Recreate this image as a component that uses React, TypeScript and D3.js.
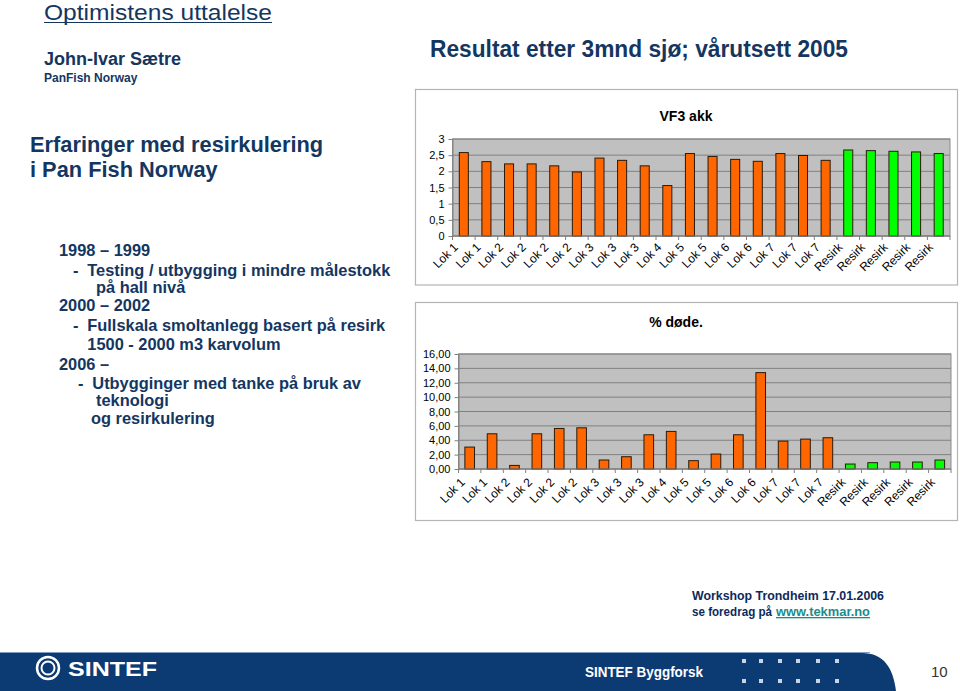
import * as d3 from 'd3';
import React, { useEffect, useRef } from 'react';

const categories = [
  'Lok 1', 'Lok 1', 'Lok 2', 'Lok 2', 'Lok 2', 'Lok 2', 'Lok 3', 'Lok 3', 'Lok 3', 'Lok 4', 'Lok 5',
  'Lok 5', 'Lok 6', 'Lok 6', 'Lok 7', 'Lok 7', 'Lok 7', 'Resirk', 'Resirk', 'Resirk', 'Resirk', 'Resirk',
];
const vf3Values = [
  2.58, 2.3, 2.23, 2.23, 2.17, 1.98, 2.41, 2.34, 2.17, 1.56, 2.55,
  2.46, 2.37, 2.31, 2.55, 2.49, 2.34, 2.66, 2.64, 2.62, 2.6, 2.55,
];
const dodeValues = [
  3.05, 4.9, 0.5, 4.9, 5.64, 5.73, 1.25, 1.71, 4.76, 5.23, 1.16,
  2.08, 4.76, 13.41, 3.88, 4.16, 4.35, 0.69, 0.88, 0.97, 0.97, 1.25,
];
const vf3Ticks = [0, 0.5, 1, 1.5, 2, 2.5, 3];
const dodeTicks = [0, 2, 4, 6, 8, 10, 12, 14, 16];

const NAVY = '#14365f';
const FONT = '"Liberation Sans", Arial, Helvetica, sans-serif';

interface ChartOpts {
  frame: [number, number, number, number];
  plot: { x0: number; x1: number; y0: number; y1: number };
  title: string;
  titleX: number;
  titleY: number;
  values: number[];
  ticks: number[];
  fmt: (d: number) => string;
  barRatio: number;
  labelDx: number;
  labelDy: number;
}

function drawChart(svg: d3.Selection<SVGSVGElement, unknown, null, undefined>, o: ChartOpts) {
  const g = svg.append('g').attr('class', 'chart').style('font-family', FONT);
  const [fx, fy, fw, fh] = o.frame;

  g.append('rect')
    .attr('x', fx).attr('y', fy).attr('width', fw).attr('height', fh)
    .attr('fill', '#fff').attr('stroke', '#b4b4b4').attr('stroke-width', 1.2);

  g.append('text')
    .attr('x', o.titleX).attr('y', o.titleY)
    .attr('text-anchor', 'middle')
    .attr('font-size', 14).attr('font-weight', 'bold')
    .text(o.title);

  const x = d3.scaleBand<number>()
    .domain(d3.range(categories.length))
    .range([o.plot.x0, o.plot.x1]);
  const y = d3.scaleLinear()
    .domain([0, d3.max(o.ticks)!])
    .range([o.plot.y1, o.plot.y0]);

  g.append('rect')
    .attr('x', o.plot.x0).attr('y', o.plot.y0)
    .attr('width', o.plot.x1 - o.plot.x0).attr('height', o.plot.y1 - o.plot.y0)
    .attr('fill', '#c0c0c0').attr('stroke', '#8c8c8c');

  // gridlines
  g.append('g').selectAll('line')
    .data(o.ticks)
    .join('line')
    .attr('x1', o.plot.x0).attr('x2', o.plot.x1)
    .attr('y1', (d) => y(d)).attr('y2', (d) => y(d))
    .attr('stroke', '#808080');

  const bw = x.bandwidth() * o.barRatio;
  g.append('g').selectAll('rect')
    .data(o.values)
    .join('rect')
    .attr('x', (_, i) => x(i)! + x.bandwidth() / 2 - bw / 2)
    .attr('y', (d) => y(d))
    .attr('width', bw)
    .attr('height', (d) => y(0) - y(d))
    .attr('fill', (_, i) => (categories[i].startsWith('Resirk') ? '#00ff00' : '#ff6600'))
    .attr('stroke', '#2a1a0a')
    .attr('stroke-width', 1);

  // y axis
  const yAxis = g.append('g')
    .attr('transform', `translate(${o.plot.x0},0)`)
    .call(d3.axisLeft(y).tickValues(o.ticks).tickFormat((d) => o.fmt(d as number)).tickSize(4).tickPadding(4).tickSizeOuter(0));
  yAxis.select('.domain').attr('stroke', '#808080');
  yAxis.selectAll('.tick line').attr('stroke', '#808080');
  yAxis.selectAll('text').attr('font-size', 11).attr('font-family', FONT).attr('fill', '#000');

  // x axis, ticks sit on the band boundaries
  const xg = g.append('g');
  xg.append('line')
    .attr('x1', o.plot.x0).attr('x2', o.plot.x1)
    .attr('y1', o.plot.y1).attr('y2', o.plot.y1)
    .attr('stroke', '#808080');
  xg.selectAll('line.tk')
    .data(d3.range(categories.length + 1))
    .join('line')
    .attr('class', 'tk')
    .attr('x1', (i) => o.plot.x0 + i * x.step()).attr('x2', (i) => o.plot.x0 + i * x.step())
    .attr('y1', o.plot.y1).attr('y2', o.plot.y1 + 4)
    .attr('stroke', '#808080');
  xg.selectAll('text')
    .data(categories)
    .join('text')
    .attr('transform', (_, i) => {
      const cx = x(i)! + x.bandwidth() / 2 + o.labelDx;
      return `translate(${cx},${o.plot.y1 + o.labelDy}) rotate(-45)`;
    })
    .attr('text-anchor', 'end')
    .attr('font-size', 12)
    .text((d) => d);
}

const commaFmt = (d: number) => String(d).replace('.', ',');
const comma2Fmt = (d: number) => d3.format('.2f')(d).replace('.', ',');

const leftLines: { x: number; y: number; t: string }[] = [
  { x: 59, y: 256, t: '1998 – 1999' },
  { x: 73, y: 276, t: '-' },
  { x: 87.3, y: 276, t: 'Testing / utbygging i mindre målestokk' },
  { x: 96, y: 293, t: 'på hall nivå' },
  { x: 59, y: 311, t: '2000 – 2002' },
  { x: 73, y: 331, t: '-' },
  { x: 87.3, y: 331, t: 'Fullskala smoltanlegg basert på resirk' },
  { x: 87.3, y: 350, t: '1500 - 2000 m3 karvolum' },
  { x: 59, y: 370, t: '2006 –' },
  { x: 78, y: 389, t: '-' },
  { x: 92.3, y: 389, t: 'Utbygginger med tanke på bruk av' },
  { x: 96, y: 406, t: 'teknologi' },
  { x: 91, y: 424, t: 'og resirkulering' },
];

const dotCols = [744, 761, 780, 798, 818, 837];
const dotRows = [661, 681];

const App: React.FC = () => {
  const svgRef = useRef<SVGSVGElement | null>(null);

  useEffect(() => {
    const svg = d3.select(svgRef.current!);
    svg.selectAll('g.chart').remove();
    drawChart(svg, {
      frame: [415.5, 89.5, 542, 195.5],
      plot: { x0: 452.5, x1: 950, y0: 139, y1: 236 },
      title: 'VF3 akk',
      titleX: 686,
      titleY: 121,
      values: vf3Values,
      ticks: vf3Ticks,
      fmt: commaFmt,
      barRatio: 0.4,
      labelDx: -5,
      labelDy: 12,
    });
    drawChart(svg, {
      frame: [415.5, 302.5, 542, 218],
      plot: { x0: 458.5, x1: 951, y0: 354, y1: 469 },
      title: '% døde.',
      titleX: 676,
      titleY: 327,
      values: dodeValues,
      ticks: dodeTicks,
      fmt: comma2Fmt,
      barRatio: 0.43,
      labelDx: -4,
      labelDy: 14,
    });
    return () => {
      svg.selectAll('g.chart').remove();
    };
  }, []);

  return (
    <div style={{ position: 'absolute', left: 0, top: 0 }}>
      <svg ref={svgRef} width={960} height={691} style={{ display: 'block', background: '#fff' }}>
        <g fontFamily={FONT} fill={NAVY}>
          <text x={44} y={19.5} fontSize={22} textLength={228} lengthAdjust="spacingAndGlyphs">Optimistens uttalelse</text>
          <line x1={44} x2={272} y1={22.5} y2={22.5} stroke={NAVY} strokeWidth={1.2} />
          <text x={44} y={65} fontSize={18} fontWeight="bold">John-Ivar Sætre</text>
          <text x={44} y={81.5} fontSize={12} fontWeight="bold">PanFish Norway</text>
          <text x={30} y={151.5} fontSize={21.8} fontWeight="bold">Erfaringer med resirkulering</text>
          <text x={30} y={176.5} fontSize={21.8} fontWeight="bold">i Pan Fish Norway</text>
          {leftLines.map((l, i) => (
            <text key={i} x={l.x} y={l.y} fontSize={16.4} fontWeight="bold">{l.t}</text>
          ))}
          <text x={430} y={57} fontSize={23} fontWeight="bold" textLength={418} lengthAdjust="spacingAndGlyphs">
            Resultat etter 3mnd sjø; vårutsett 2005
          </text>
          <text x={692} y={600} fontSize={13} fontWeight="bold" fill="#0d2a5c" textLength={192} lengthAdjust="spacingAndGlyphs">
            Workshop Trondheim 17.01.2006
          </text>
          <text x={692} y={616} fontSize={13} fontWeight="bold" fill="#0d2a5c" textLength={80} lengthAdjust="spacingAndGlyphs">
            se foredrag på
          </text>
          <text x={776} y={616} fontSize={13} fontWeight="bold" fill="#1a8c8c" textLength={94} lengthAdjust="spacingAndGlyphs" textDecoration="underline">
            www.tekmar.no
          </text>
        </g>
        <g>
          <line x1={0} x2={870} y1={652.5} y2={652.5} stroke="#7f9cc4" strokeWidth={1} />
          <path d="M0,653 H862 C884,653 893,668 896,691 H0 Z" fill="#0c3a73" />
          <circle cx={48} cy={668} r={11} fill="none" stroke="#fff" strokeWidth={2.5} />
          <circle cx={48} cy={668} r={6.5} fill="none" stroke="#fff" strokeWidth={2} />
          <text x={68} y={676} fontSize={20} fontWeight="bold" fill="#fff" fontFamily={FONT} textLength={89} lengthAdjust="spacingAndGlyphs">
            SINTEF
          </text>
          <text x={585} y={677} fontSize={15} fontWeight="bold" fill="#fff" fontFamily={FONT} textLength={118} lengthAdjust="spacingAndGlyphs">
            SINTEF Byggforsk
          </text>
          {dotRows.map((ry) =>
            dotCols.map((cx) => (
              <rect key={`${ry}-${cx}`} x={cx - 2} y={ry - 2} width={4} height={4} fill="#c9d3e3" />
            )),
          )}
          <text x={931} y={677} fontSize={15} fill="#333" fontFamily={FONT}>10</text>
        </g>
      </svg>
    </div>
  );
};

export default App;
